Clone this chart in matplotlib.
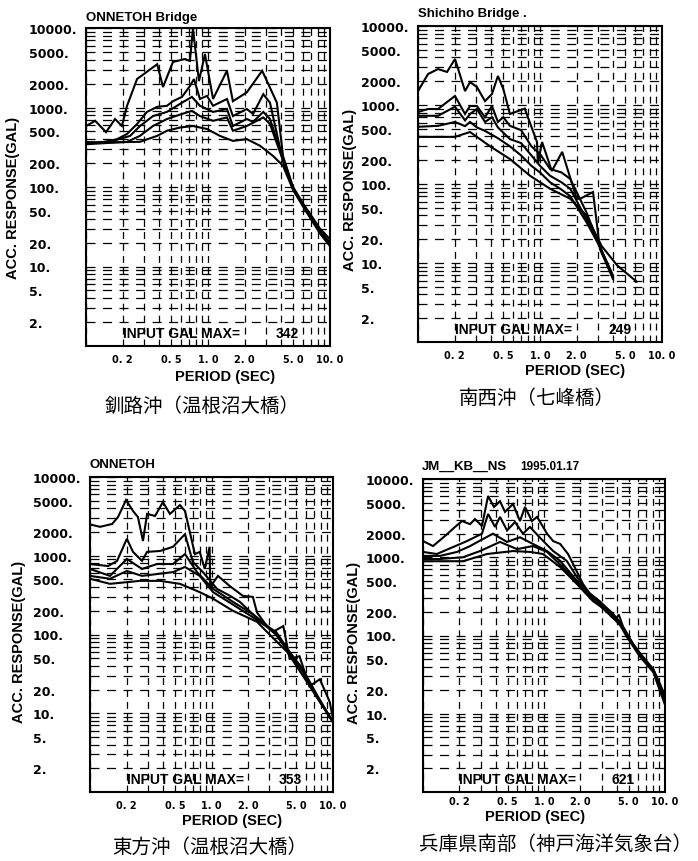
import numpy as np
import matplotlib
matplotlib.use("Agg")
import matplotlib.pyplot as plt
from matplotlib.ticker import LogLocator, NullFormatter

plt.rcParams['lines.scale_dashes'] = False

# ---- axis ticks -------------------------------------------------------
y_ticks = [10000, 5000, 2000, 1000, 500, 200, 100, 50, 20, 10, 5, 2]
y_tick_labels = ["10000.", "5000.", "2000.", "1000.", "500.", "200.",
                 "100.", "50.", "20.", "10.", "5.", "2."]
x_ticks = [0.2, 0.5, 1.0, 2.0, 5.0, 10.0]
x_tick_labels = ["0. 2", "0. 5", "1. 0", "2. 0", "5. 0", "10. 0"]

# ---- 釧路沖 (温根沼大橋) ------------------------------------------------
kushiro_T1 = [0.100, 0.119, 0.146, 0.173, 0.197, 0.217, 0.262, 0.383, 0.428, 0.516, 0.648, 0.711,
              0.753, 0.843, 0.944, 1.10, 1.43, 1.60, 2.08, 2.78, 3.67, 4.12, 4.98, 6.10, 8.28, 10.0]
kushiro_A1 = [585, 680, 490, 716, 585, 1050, 2280, 3500, 1810, 3740, 4070, 3850,
              9900, 2150, 4700, 1280, 2900, 1200, 1550, 2900, 1150, 245, 100, 60, 30, 22]
kushiro_T2 = [0.100, 0.130, 0.180, 0.217, 0.262, 0.316, 0.383, 0.461, 0.516, 0.612, 0.711, 0.767, 0.859,
              0.981, 1.10, 1.43, 1.60, 2.08, 2.34, 2.84, 3.22, 3.75, 4.12, 4.98, 6.10, 8.28, 10.0]
kushiro_A2 = [368, 360, 400, 465, 620, 880, 1020, 1050, 1200, 1360, 1860, 2280, 1280,
              1400, 1050, 1280, 780, 957, 830, 1470, 1150, 400, 210, 97, 58, 28, 20]
kushiro_T3 = [0.100, 0.157, 0.230, 0.277, 0.354, 0.461, 0.612, 0.738, 0.859, 1.10, 1.43,
              1.60, 2.08, 2.34, 2.84, 3.22, 4.12, 4.98, 6.10, 8.28, 10.0]
kushiro_A3 = [360, 370, 440, 585, 780, 880, 1150, 1360, 1050, 880, 957,
              585, 716, 660, 880, 716, 230, 95, 57, 27, 19]
kushiro_T4 = [0.100, 0.217, 0.277, 0.354, 0.461, 0.612, 0.738, 0.859, 1.10, 1.43,
              1.60, 2.08, 2.84, 3.22, 4.12, 4.98, 6.10, 8.28, 10.0]
kushiro_A4 = [345, 370, 440, 585, 716, 830, 905, 780, 680, 750,
              510, 585, 750, 620, 215, 93, 56, 27, 19]
kushiro_T5 = [0.100, 0.277, 0.383, 0.461, 0.589, 0.753, 0.981, 1.25, 1.60, 2.08,
              2.67, 3.42, 4.12, 4.98, 6.10, 8.28, 10.0]
kushiro_A5 = [360, 370, 440, 510, 560, 585, 537, 440, 380, 400,
              330, 245, 185, 92, 55, 26, 18]

# ---- 南西沖 (七峰橋) ----------------------------------------------------
nansei_T1 = [0.100, 0.121, 0.146, 0.173, 0.201, 0.243, 0.267, 0.304, 0.354, 0.404, 0.452, 0.500,
             0.567, 0.750, 0.945, 0.960, 1.04, 1.25, 1.52, 2.00, 2.13, 2.72, 3.10, 3.96]
nansei_A1 = [1500, 2470, 2850, 2620, 3820, 1500, 1950, 1690, 1120, 1380, 2330, 1600,
             770, 900, 340, 180, 340, 146, 255, 65, 65, 79, 15, 6.3]
nansei_T2 = [0.100, 0.121, 0.146, 0.173, 0.201, 0.243, 0.267, 0.304, 0.354, 0.404, 0.452,
             0.500, 0.567, 0.700, 0.850, 1.00, 1.21, 1.50, 1.77, 2.40, 3.10, 3.96]
nansei_A2 = [815, 890, 890, 1090, 1300, 770, 970, 970, 700, 970, 610,
             700, 545, 480, 300, 240, 155, 140, 116, 44, 16, 6.5]
nansei_T3 = [0.100, 0.146, 0.201, 0.243, 0.267, 0.304, 0.354, 0.404, 0.452, 0.567,
             0.700, 0.850, 1.00, 1.21, 1.50, 1.77, 2.40, 3.10, 3.96]
nansei_A3 = [730, 730, 950, 640, 770, 890, 610, 700, 520, 370,
             330, 230, 170, 127, 105, 87, 36, 16, 6.8]
nansei_T4 = [0.100, 0.146, 0.201, 0.243, 0.267, 0.304, 0.354, 0.452, 0.567,
             0.700, 0.850, 1.00, 1.21, 1.50, 1.77, 2.40, 3.10, 3.96]
nansei_A4 = [530, 545, 610, 540, 610, 520, 470, 380, 300,
             230, 170, 140, 105, 85, 70, 33, 16, 7.0]
nansei_T5 = [0.100, 0.200, 0.267, 0.390, 0.567, 0.830, 1.21, 1.77, 2.40, 3.20, 4.30, 6.20]
nansei_A5 = [395, 395, 455, 300, 207, 127, 87, 65, 40, 16.4, 9.3, 5.8]

# ---- 東方沖 (温根沼大橋) ------------------------------------------------
toho_T1 = [0.100, 0.121, 0.152, 0.170, 0.198, 0.226, 0.248, 0.273, 0.295, 0.343, 0.398,
           0.455, 0.550, 0.605, 0.730, 0.800, 0.880, 0.965, 0.975, 1.13, 1.42, 1.81,
           2.19, 2.37, 2.86, 3.20, 3.90, 4.40, 5.30, 6.40, 7.80, 9.40, 10.0]
toho_A1 = [2500, 2330, 2530, 3100, 5100, 3700, 3100, 1540, 3400, 3200, 4800,
           3400, 4400, 3700, 1050, 1120, 680, 1300, 400, 555, 410, 310,
           300, 190, 128, 108, 128, 49, 53, 22, 27, 13.9, 8.5]
toho_T2 = [0.100, 0.141, 0.167, 0.201, 0.226, 0.268, 0.295, 0.377, 0.482, 0.605, 0.703,
           0.850, 1.11, 1.42, 1.71, 2.28, 2.86, 3.40, 4.40, 5.60, 7.40, 10.0]
toho_A2 = [785, 740, 860, 1640, 1120, 860, 1120, 1150, 1300, 1880, 830,
           620, 380, 310, 260, 170, 128, 108, 60, 37, 17, 7.7]
toho_T3 = [0.100, 0.146, 0.201, 0.268, 0.356, 0.482, 0.605, 0.760, 1.03, 1.50,
           2.20, 2.86, 3.40, 4.40, 5.60, 7.40, 10.0]
toho_A3 = [680, 555, 910, 680, 785, 785, 1050, 620, 380, 260,
           180, 130, 100, 58, 35, 16, 7.8]
toho_T4 = [0.100, 0.146, 0.201, 0.268, 0.482, 0.605, 0.800, 1.03, 1.50,
           2.20, 2.86, 3.40, 4.40, 5.60, 7.40, 10.0]
toho_A4 = [555, 510, 640, 555, 620, 720, 555, 345, 240,
           165, 125, 100, 57, 34, 16, 7.8]
toho_T5 = [0.100, 0.146, 0.258, 0.377, 0.550, 0.800, 1.03, 1.50, 2.37, 2.86, 4.20, 6.10, 10.0]
toho_A5 = [510, 440, 480, 480, 440, 345, 285, 200, 145, 108, 60, 25, 7.7]

# ---- 兵庫県南部 (神戸海洋気象台) ----------------------------------------
hyogo_T1 = [0.100, 0.121, 0.152, 0.184, 0.210, 0.245, 0.269, 0.307, 0.345, 0.386, 0.433,
            0.476, 0.555, 0.633, 0.697, 0.795, 0.876, 1.06, 1.19, 1.36, 1.58, 1.74,
            2.10, 2.40, 2.91, 3.60, 3.90, 4.15, 4.50, 5.46, 6.20, 8.00, 9.00, 10.0]
hyogo_A1 = [1610, 1390, 1870, 2440, 2900, 2650, 3080, 2500, 6060, 4400, 5200,
            3800, 4800, 2900, 4400, 2900, 3280, 2000, 1610, 1480, 1100, 820,
            455, 340, 270, 175, 160, 185, 130, 78, 60, 37, 25, 17]
hyogo_T2 = [0.100, 0.130, 0.177, 0.231, 0.307, 0.345, 0.394, 0.433, 0.495, 0.576, 0.670,
            0.765, 0.920, 1.19, 1.54, 1.87, 2.26, 2.91, 3.72, 4.26, 4.86, 6.20, 8.00, 10.0]
hyogo_A2 = [1170, 1100, 1350, 1610, 2000, 3580, 2440, 3280, 2200, 2820, 2000,
            2440, 1800, 1200, 900, 560, 370, 270, 190, 145, 100, 56, 36, 15]
hyogo_T3 = [0.100, 0.138, 0.191, 0.245, 0.313, 0.379, 0.495, 0.633, 0.810, 1.06,
            1.36, 1.87, 2.54, 3.72, 4.26, 4.86, 6.20, 8.00, 10.0]
hyogo_A3 = [1040, 1040, 1170, 1390, 1710, 2000, 1570, 1800, 1480, 1200,
            900, 500, 310, 178, 140, 98, 55, 35, 14]
hyogo_T4 = [0.100, 0.138, 0.214, 0.296, 0.433, 0.598, 0.810, 1.06, 1.43,
            1.98, 2.54, 3.72, 4.26, 4.86, 6.20, 8.00, 10.0]
hyogo_A4 = [950, 950, 1000, 1200, 1570, 1270, 1390, 1170, 750,
            430, 290, 168, 135, 95, 54, 34, 13]
hyogo_T5 = [0.100, 0.138, 0.214, 0.338, 0.555, 0.765, 0.980, 1.36, 1.87,
            2.54, 3.33, 4.26, 4.86, 6.20, 8.00, 10.0]
hyogo_A5 = [890, 890, 890, 1100, 1200, 1170, 1100, 750, 455,
            275, 205, 150, 100, 58, 37, 16]

# ---- per-panel text ---------------------------------------------------
titles = ["ONNETOH Bridge", "Shichiho Bridge .", "ONNETOH", "JM__KB__NS"]
title_dates = ["", "", "", "1995.01.17"]
captions = ["釧路沖（温根沼大橋）", "南西沖（七峰橋）", "東方沖（温根沼大橋）", "兵庫県南部（神戸海洋気象台）"]
input_max = [342, 249, 353, 621]

curves = [
    [(kushiro_T1, kushiro_A1), (kushiro_T2, kushiro_A2), (kushiro_T3, kushiro_A3),
     (kushiro_T4, kushiro_A4), (kushiro_T5, kushiro_A5)],
    [(nansei_T1, nansei_A1), (nansei_T2, nansei_A2), (nansei_T3, nansei_A3),
     (nansei_T4, nansei_A4), (nansei_T5, nansei_A5)],
    [(toho_T1, toho_A1), (toho_T2, toho_A2), (toho_T3, toho_A3),
     (toho_T4, toho_A4), (toho_T5, toho_A5)],
    [(hyogo_T1, hyogo_A1), (hyogo_T2, hyogo_A2), (hyogo_T3, hyogo_A3),
     (hyogo_T4, hyogo_A4), (hyogo_T5, hyogo_A5)],
]

# ---- layout (pixel geometry of the 698 x 862 sheet) ----------------------
W, H = 698, 862


def fx(px):
    return px / W


def fy(py):
    return 1 - py / H


boxes = [(86, 29, 330, 347), (418, 27, 662, 343), (90, 478, 333, 793), (423, 480, 665, 793)]
title_pos = [(86, 18), (418, 14), (90, 465), (422, 467)]
date_pos = [None, None, None, (520, 467)]
ylabel_pos = [(13, 198), (350, 190), (19, 642), (354, 643)]
xtick_pad = [6, 6, 6, 3]
xlabel_pos = [(225, 377), (575, 371), (232, 821), (535, 817)]
caption_pos = [(202, 406), (537, 398), (210, 847), (555, 844)]

BOLD = dict(family="Liberation Sans", fontweight="bold")
CJK = ["Noto Sans CJK JP", "DejaVu Sans"]

fig = plt.figure(figsize=(W / 100, H / 100), dpi=100)
fig.patch.set_facecolor("white")

for i in range(4):
    l, t, r, b = boxes[i]
    ax = fig.add_axes([fx(l), fy(b), (r - l) / W, (b - t) / H])
    ax.set_xscale("log")
    ax.set_yscale("log")
    ax.set_xlim(0.1, 10.0)
    ax.set_ylim(1.0, 10000.0)

    ax.xaxis.set_minor_locator(LogLocator(base=10, subs=np.arange(1, 10), numticks=20))
    ax.yaxis.set_minor_locator(LogLocator(base=10, subs=np.arange(1, 10), numticks=20))
    ax.xaxis.set_minor_formatter(NullFormatter())
    ax.yaxis.set_minor_formatter(NullFormatter())

    ax.set_yticks(y_ticks, labels=y_tick_labels, fontsize=9, fontweight="bold",
                  family="DejaVu Sans")
    ax.set_xticks(x_ticks, labels=x_tick_labels, fontsize=7, fontweight="bold",
                  family="DejaVu Sans")
    for lab in ax.get_yticklabels():
        lab.set_horizontalalignment("left")
    ax.tick_params(which="both", length=0)
    ax.tick_params(axis="y", pad=41)
    ax.tick_params(axis="x", pad=xtick_pad[i])

    # dashed log grid
    ax.grid(which="both", axis="x", color="black", lw=0.9, linestyle=(0, (5.0, 3.6)))
    ax.grid(which="both", axis="y", color="black", lw=0.9, linestyle=(0, (6.5, 5.4)))
    ax.set_axisbelow(True)

    for s in ax.spines.values():
        s.set_linewidth(1.5)
        s.set_color("black")

    for T, A in curves[i]:
        ax.plot(T, A, color="black", lw=1.5, solid_joinstyle="miter")

    ax.text(0.2, 1.45, "INPUT GAL MAX=", ha="left", va="center", fontsize=10, **BOLD)
    ax.text(5.6, 1.45, f"{input_max[i]}", ha="right", va="center", fontsize=10, **BOLD)

    tx, ty = title_pos[i]
    fig.text(fx(tx), fy(ty), titles[i], ha="left", va="center", fontsize=9.5, **BOLD)
    if date_pos[i] is not None:
        dx, dy = date_pos[i]
        fig.text(fx(dx), fy(dy), title_dates[i], ha="left", va="center", fontsize=8.5, **BOLD)

    yx, yy = ylabel_pos[i]
    fig.text(fx(yx), fy(yy), "ACC. RESPONSE(GAL)", rotation=90, ha="center", va="center",
             fontsize=10.5, **BOLD)

    xx, xy = xlabel_pos[i]
    fig.text(fx(xx), fy(xy), "PERIOD (SEC)", ha="center", va="center", fontsize=10.5, **BOLD)

    cx, cy = caption_pos[i]
    fig.text(fx(cx), fy(cy), captions[i], ha="center", va="center", fontsize=14, family=CJK)

fig.savefig("out.png", dpi=100, facecolor="white")
